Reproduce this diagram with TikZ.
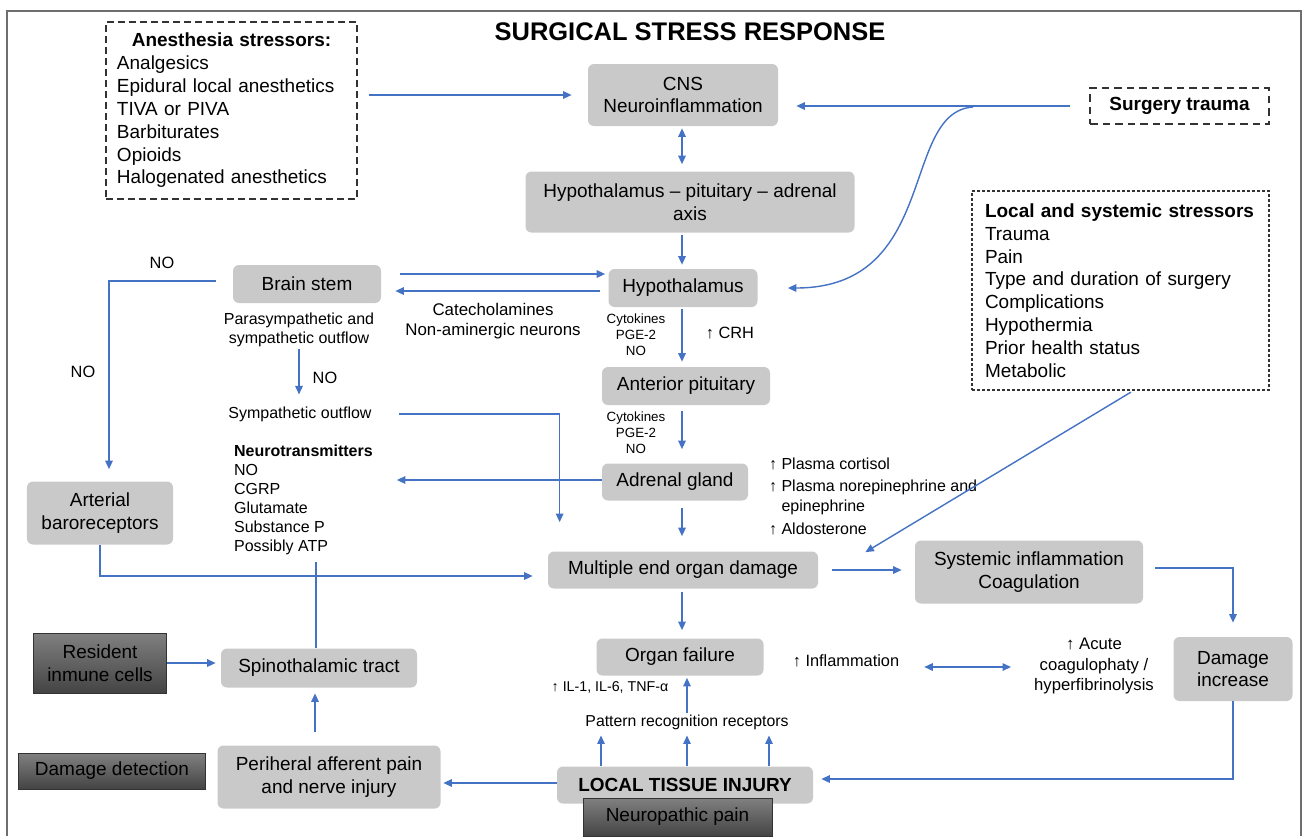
\documentclass[tikz,border=0pt]{standalone}
\usepackage{fontspec}
\setmainfont{Liberation Sans}
\usepackage{tikz}
\usetikzlibrary{arrows.meta}
\definecolor{boxgrey}{RGB}{201,201,201}
\definecolor{flowblue}{RGB}{68,114,196}
\definecolor{shadetop}{RGB}{128,128,128}
\definecolor{shadebot}{RGB}{68,68,68}
\definecolor{framegrey}{RGB}{110,110,110}
\tikzset{
  base/.style={font=\fontsize{10.8}{13}\selectfont, align=center, inner sep=1pt, text=black},
  box/.style={base, rectangle, rounded corners=3.4pt, fill=boxgrey},
  dark/.style={base, rectangle, draw=black!80, line width=0.4pt, top color=shadetop, bottom color=shadebot},
  stress/.style={base, rectangle, draw=black!80, line width=0.65pt, dash pattern=on 1.4mm off 0.8mm},
  lbl/.style={base, font=\fontsize{9.3}{11.2}\selectfont},
  small/.style={base, font=\fontsize{7.6}{9.1}\selectfont},
  arr/.style={-{Triangle[length=1.7mm,width=1.5mm]}, line width=0.8pt, draw=flowblue},
  arr2/.style={line width=0.8pt, draw=flowblue, arrows={Triangle[length=1.7mm,width=1.5mm]-Triangle[length=1.7mm,width=1.5mm]}},
  conn/.style={line width=0.8pt, draw=flowblue},
}
\begin{document}
\begin{tikzpicture}[x=0.2mm,y=-0.2mm]
  \useasboundingbox (0,0) rectangle (1303,836);
  \draw[framegrey,line width=0.7pt] (7,836) -- (7,11) -- (1301,11) -- (1301,836);
  \node[base,font=\fontsize{14.5}{17}\selectfont\bfseries] (title) at (690,32) {SURGICAL STRESS RESPONSE};
  % stressors
  \node[stress,text width=45.8mm,inner xsep=2.2mm,align=left,minimum height=35.4mm] (anes) at (231.5,110.5)
    {\makebox[\linewidth]{\textbf{Anesthesia stressors:}}\\Analgesics\\Epidural local anesthetics\\TIVA or PIVA\\Barbiturates\\Opioids\\Halogenated anesthetics};
  \node[stress,dash pattern=on 1.5mm off 1mm,minimum width=35.8mm,minimum height=7.2mm,font=\fontsize{10.8}{13}\selectfont\bfseries] (surg) at (1179.5,106) {Surgery trauma};
  \node[stress,dash pattern=on 0.6mm off 0.4mm,text width=54.2mm,inner xsep=2.6mm,align=left,minimum height=39.8mm] (locstr) at (1120.5,290.5)
    {\textbf{Local and systemic stressors}\\Trauma\\Pain\\Type and duration of surgery\\Complications\\Hypothermia\\Prior health status\\Metabolic};
  % central axis
  \node[box,minimum width=38mm,minimum height=12.4mm] (cns) at (683,95) {CNS\\Neuroinflammation};
  \node[box,minimum width=65.8mm,minimum height=12.2mm] (hpa) at (690,202) {Hypothalamus – pituitary – adrenal\\axis};
  \node[box,minimum width=29.8mm,minimum height=7.6mm] (hypo) at (683,288) {Hypothalamus};
  \node[box,minimum width=33.6mm,minimum height=7.6mm] (antpit) at (686,386) {Anterior pituitary};
  \node[box,minimum width=29.2mm,minimum height=7.4mm] (adrenal) at (675,482) {Adrenal gland};
  \node[box,minimum width=54mm,minimum height=7.4mm] (meod) at (683,570) {Multiple end organ damage};
  \node[box,minimum width=33.4mm,minimum height=7.4mm] (organ) at (680,657) {Organ failure};
  \node[box,minimum width=51.2mm,minimum height=7.4mm,font=\fontsize{10.8}{13}\selectfont\bfseries] (lti) at (685,785) {LOCAL TISSUE INJURY};
  \node[dark,minimum width=37.8mm,minimum height=7.6mm] (neuropath) at (677.5,817) {Neuropathic pain};
  \coordinate (axis) at (682,0);
  % left side
  \node[box,minimum width=29.6mm,minimum height=7.6mm] (brain) at (307,284) {Brain stem};
  \node[box,minimum width=29.2mm,minimum height=12.6mm] (baro) at (100,513) {Arterial\\baroreceptors};
  \node[box,minimum width=39.2mm,minimum height=7.8mm] (spino) at (319,668) {Spinothalamic tract};
  \node[dark,minimum width=26.6mm,minimum height=12mm] (resident) at (100,663) {Resident\\inmune cells};
  \node[dark,minimum width=37.4mm,minimum height=7.2mm] (dmgdet) at (112,771) {Damage detection};
  \node[box,minimum width=44.6mm,minimum height=12.6mm] (periph) at (329,777) {Periheral afferent pain\\and nerve injury};
  % right side
  \node[box,minimum width=45.6mm,minimum height=12.6mm] (sysinf) at (1029,572) {Systemic inflammation\\Coagulation};
  \node[box,minimum width=23.8mm,minimum height=12.8mm] (dmginc) at (1233,669) {Damage\\increase};
  % labels
  \node[lbl,font=\fontsize{9.6}{11.4}\selectfont] (catech) at (493,321) {Catecholamines\\Non-aminergic neurons};
  \node[lbl,font=\fontsize{9.1}{10.8}\selectfont] (para) at (299,330) {Parasympathetic and\\sympathetic outflow};
  \node[lbl,font=\fontsize{9.1}{10.8}\selectfont] (symp) at (300,414) {Sympathetic outflow};
  \node[lbl,font=\fontsize{9.1}{10.8}\selectfont,align=left,anchor=west] (neuro) at (232,500)
    {\textbf{Neurotransmitters}\\NO\\CGRP\\Glutamate\\Substance P\\Possibly ATP};
  \node[small] (cyto1) at (636,335) {Cytokines\\PGE-2\\NO};
  \node[small] (cyto2) at (636,433) {Cytokines\\PGE-2\\NO};
  \node[lbl] (crh) at (730,333) {↑ CRH};
  \node[lbl,font=\fontsize{9.1}{11}\selectfont,align=left,anchor=west] (plasma) at (767,496)
    {↑ Plasma cortisol\\[2pt]↑ Plasma norepinephrine and\\\phantom{↑ }epinephrine\\[2pt]↑ Aldosterone};
  \node[base,font=\fontsize{8.1}{10}\selectfont] (il) at (610,687) {↑ IL-1, IL-6, TNF-α};
  \node[lbl,font=\fontsize{9}{11}\selectfont] (patt) at (687,722) {Pattern recognition receptors};
  \node[lbl] (infl) at (846,661) {↑ Inflammation};
  \node[lbl,font=\fontsize{9.5}{11.9}\selectfont] (acute) at (1094,666) {↑ Acute\\coagulophaty /\\hyperfibrinolysis};
  \node[lbl] (no1) at (162,263) {NO};
  \node[lbl] (no2) at (83,372) {NO};
  \node[lbl] (no3) at (325,378) {NO};
  % connectors
  \draw[arr,shorten <=2.2mm,shorten >=3.2mm] (anes.east |- cns.west) -- (cns.west);
  \draw[arr,shorten <=3.8mm,shorten >=3.6mm] (surg.west) -- (surg.west -| cns.east);
  \coordinate (split) at (973,107);
  \draw[arr,shorten >=6mm] (split) .. controls (900,112) and (940,288) .. (hypo.east);
  \draw[arr2,shorten <=0.4mm,shorten >=1.4mm] (cns.south -| axis) -- (hpa.north -| axis);
  \foreach \a/\b/\s/\e in {hpa/hypo/0.4/0.8,hypo/antpit/0.4/1,antpit/adrenal/1.2/2.8,adrenal/meod/1.4/3,meod/organ/0.6/1.6}{
    \draw[arr,shorten <=\s mm,shorten >=\e mm] (\a.south -| axis) -- (\b.north -| axis);
  }
  \draw[arr,shorten <=3.8mm,shorten >=0.6mm] ([yshift=2mm]brain.east) -- ([yshift=2mm]brain.east -| hypo.west);
  \draw[arr,shorten <=1.6mm,shorten >=2.8mm] ([yshift=-0.6mm]hypo.west) -- ([yshift=-0.6mm]hypo.west -| brain.east);
  \draw[arr,shorten <=3.4mm,shorten >=2.4mm] ([yshift=0.6mm]brain.west) -| ([xshift=1.8mm]baro.north);
  \draw[arr,shorten >=2mm] (para.south) -- (para.south |- symp.north);
  \draw[arr,shorten <=5mm,shorten >=5.8mm] (symp.east) -| ([xshift=2.4mm]meod.north west);
  \draw[arr,shorten >=4.4mm] ([yshift=0.4mm]adrenal.west) -- ([yshift=0.4mm]adrenal.west -| neuro.east);
  \draw[arr,shorten >=3mm] (baro.south) |- ([yshift=-1.2mm]meod.west);
  \draw[conn,shorten >=1mm] ([xshift=-0.6mm]spino.north) -- ([xshift=-0.6mm]spino.north |- neuro.south);
  \draw[arr,shorten >=1mm] (resident.east) -- (resident.east -| spino.west);
  \draw[arr,shorten <=2.7mm,shorten >=1.1mm] ([xshift=-2.8mm]periph.north) -- ([xshift=-2.8mm]periph.north |- spino.south);
  \draw[arr,shorten >=0.5mm] ([yshift=0.4mm]lti.west) -- ([yshift=0.4mm]lti.west -| periph.east);
  \foreach \dx in {-16.8,0.4,16.8}{
    \draw[arr,shorten >=0.8mm] ([xshift=\dx mm]lti.north) -- ([xshift=\dx mm]lti.north |- patt.south);
  }
  \draw[arr,shorten >=0.4mm] (patt.north) -- (patt.north |- organ.south);
  \draw[arr,shorten <=2.8mm,shorten >=2.6mm] (meod.east) -- (meod.east -| sysinf.west);
  \draw[arr,shorten <=2.4mm,shorten >=2.8mm] ([yshift=0.8mm]sysinf.east) -| (dmginc.north);
  \draw[arr,shorten >=1.6mm] (dmginc.south) |- ([yshift=1.2mm]lti.east);
  \coordinate (hit) at ([xshift=9.4mm,yshift=-0.2mm]meod.north east);
  \draw[arr,shorten <=0.6mm] ([xshift=2.6mm]locstr.south) -- (hit);
  \draw[arr2,shorten <=4.6mm,shorten >=4.2mm] ([yshift=-1.2mm]infl.east) -- ([yshift=-1.2mm]infl.east -| acute.west);
\end{tikzpicture}
\end{document}
